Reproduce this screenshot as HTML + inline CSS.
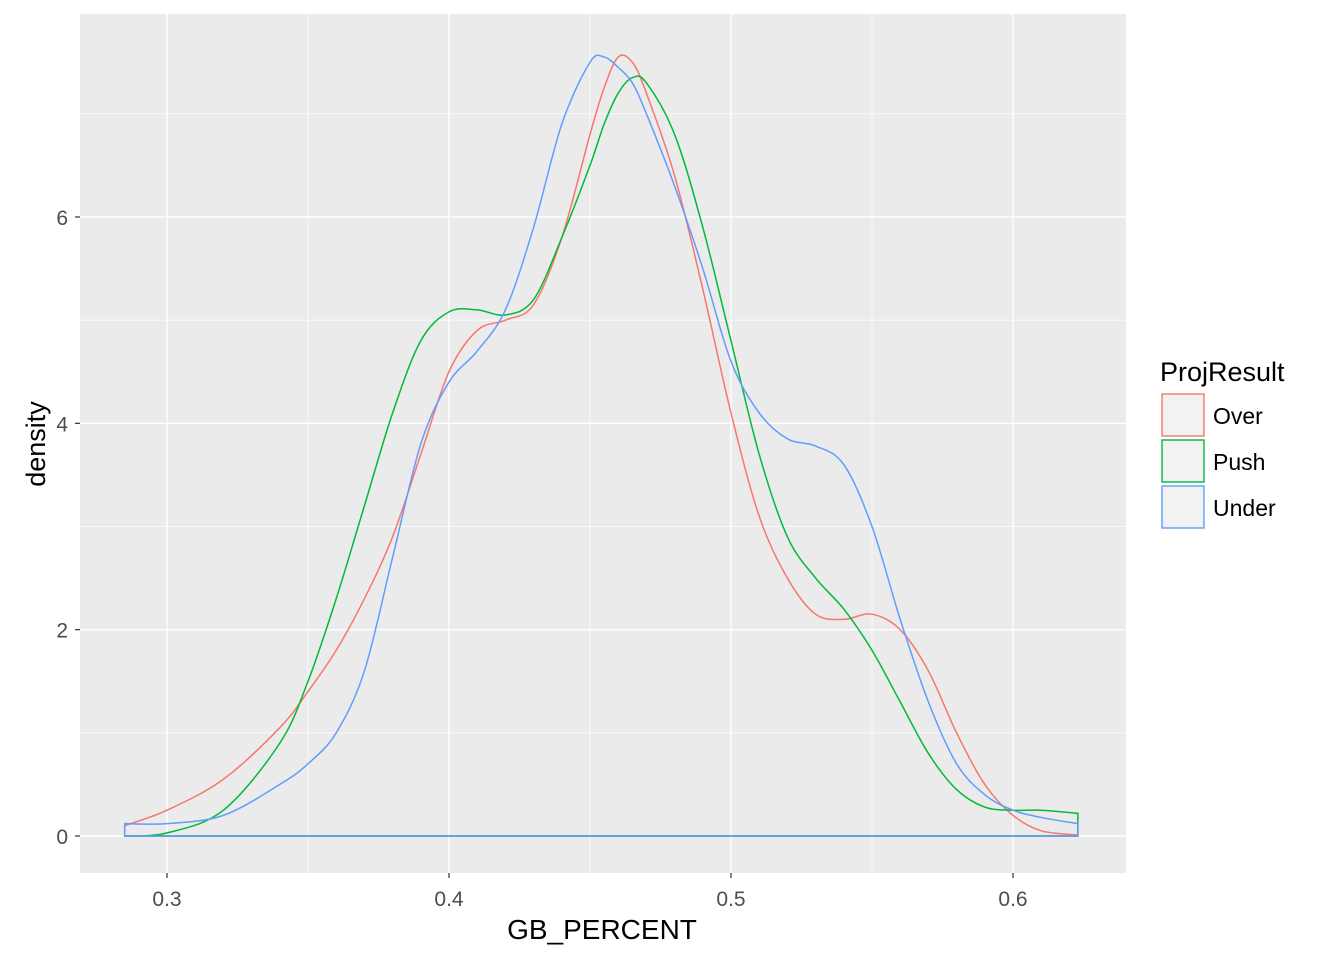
<!DOCTYPE html>
<html><head><meta charset="utf-8"><style>
body{margin:0;background:#fff}
svg text{font-family:"Liberation Sans",Arial,sans-serif}
</style></head><body>
<svg id="c" width="1344" height="960"></svg>
<script>
const xs=[0.285,0.30,0.32,0.34,0.35,0.36,0.37,0.38,0.39,0.40,0.41,0.42,0.43,0.44,0.45,0.455,0.46,0.465,0.47,0.48,0.49,0.50,0.51,0.52,0.53,0.54,0.55,0.56,0.57,0.58,0.59,0.60,0.61,0.623];
const overVals=[0.1,0.25,0.55,1.05,1.4,1.8,2.3,2.9,3.7,4.5,4.9,5.0,5.15,5.8,6.8,7.25,7.55,7.5,7.2,6.4,5.3,4.1,3.1,2.5,2.15,2.1,2.15,2.0,1.6,1.0,0.5,0.2,0.05,0.01];
const pushVals=[0.0,0.03,0.25,0.9,1.5,2.3,3.2,4.1,4.8,5.08,5.1,5.05,5.2,5.8,6.5,6.9,7.2,7.35,7.3,6.8,5.9,4.8,3.7,2.9,2.5,2.2,1.8,1.3,0.8,0.45,0.28,0.25,0.25,0.22];
const underVals=[0.12,0.12,0.2,0.5,0.7,1.0,1.6,2.7,3.8,4.4,4.7,5.1,5.9,6.9,7.5,7.55,7.45,7.3,7.0,6.3,5.5,4.6,4.1,3.85,3.78,3.6,3.0,2.1,1.3,0.7,0.4,0.25,0.18,0.12];
const xTicks=[0.3,0.4,0.5,0.6];
const yTicks=[0,2,4,6];
const xMinor=[0.35,0.45,0.55];
const yMinor=[1,3,5,7];
const seriesNames=["Over","Push","Under"];
const colors=["#F8766D","#00BA38","#619CFF"];

const svg=document.getElementById('c');
const NS='http://www.w3.org/2000/svg';
const PL=80,PR=1126,PT=14,PB=873;
const X=v=>167+(v-0.3)*2820;
const Y=d=>836-d*103.17;
function mk(t,a,p){const e=document.createElementNS(NS,t);for(const k in a)e.setAttribute(k,a[k]);(p||svg).appendChild(e);return e;}
const bg=mk('rect',{x:PL,y:PT,width:PR-PL,height:PB-PT,fill:'#EBEBEB'});


xMinor.forEach(v=>{const l=mk('line',{x1:X(v),x2:X(v),y1:PT,y2:PB,stroke:'#fff','stroke-width':0.7});

});
yMinor.forEach(v=>{const l=mk('line',{x1:PL,x2:PR,y1:Y(v),y2:Y(v),stroke:'#fff','stroke-width':0.7});

});
xTicks.forEach(v=>{const l=mk('line',{x1:X(v),x2:X(v),y1:PT,y2:PB,stroke:'#fff','stroke-width':1.4});


const t=mk('line',{x1:X(v),x2:X(v),y1:PB,y2:PB+5,stroke:'#333','stroke-width':1.2});


const tx=mk('text',{x:X(v),y:906,'text-anchor':'middle','font-size':21,fill:'#4d4d4d'});tx.textContent=v.toFixed(1);

});
yTicks.forEach(v=>{const l=mk('line',{x1:PL,x2:PR,y1:Y(v),y2:Y(v),stroke:'#fff','stroke-width':1.4});


const t=mk('line',{x1:PL-5,x2:PL,y1:Y(v),y2:Y(v),stroke:'#333','stroke-width':1.2});


const tx=mk('text',{x:68,y:Y(v)+8,'text-anchor':'end','font-size':21,fill:'#4d4d4d'});tx.textContent=v;

});
function pathFor(vals){
  const p=xs.map((x,i)=>[X(x),Y(vals[i])]);
  let d=`M${X(xs[0])},${Y(0)}L${p[0][0]},${p[0][1]}`;
  for(let i=0;i<p.length-1;i++){
    const p0=p[Math.max(0,i-1)],p1=p[i],p2=p[i+1],p3=p[Math.min(p.length-1,i+2)];
    d+=`C${p1[0]+(p2[0]-p0[0])/6},${p1[1]+(p2[1]-p0[1])/6} ${p2[0]-(p3[0]-p1[0])/6},${p2[1]-(p3[1]-p1[1])/6} ${p2[0]},${p2[1]}`;
  }
  d+=`L${X(xs[xs.length-1])},${Y(0)}Z`;return d;
}
[overVals,pushVals,underVals].forEach((vals,i)=>{
  const e=mk('path',{d:pathFor(vals),fill:'none',stroke:colors[i],'stroke-width':1.5});
  
  
});
const xl=mk('text',{x:602,y:939,'text-anchor':'middle','font-size':28,fill:'#000'});xl.textContent='GB_PERCENT';


const yl=mk('text',{x:0,y:0,'text-anchor':'middle','font-size':27,fill:'#000',transform:'translate(45,444) rotate(-90)'});yl.textContent='density';


const lt=mk('text',{x:1160,y:381,'font-size':27,fill:'#000'});lt.textContent='ProjResult';


seriesNames.forEach((n,i)=>{
  const y0=394+i*46;
  const r=mk('rect',{x:1162,y:y0,width:42,height:42,fill:'#F2F2F2',stroke:colors[i],'stroke-width':1.4});
  
  
  const t=mk('text',{x:1213,y:y0+30,'font-size':23,fill:'#000'});t.textContent=n;
  
  
});
</script>
</body></html>
